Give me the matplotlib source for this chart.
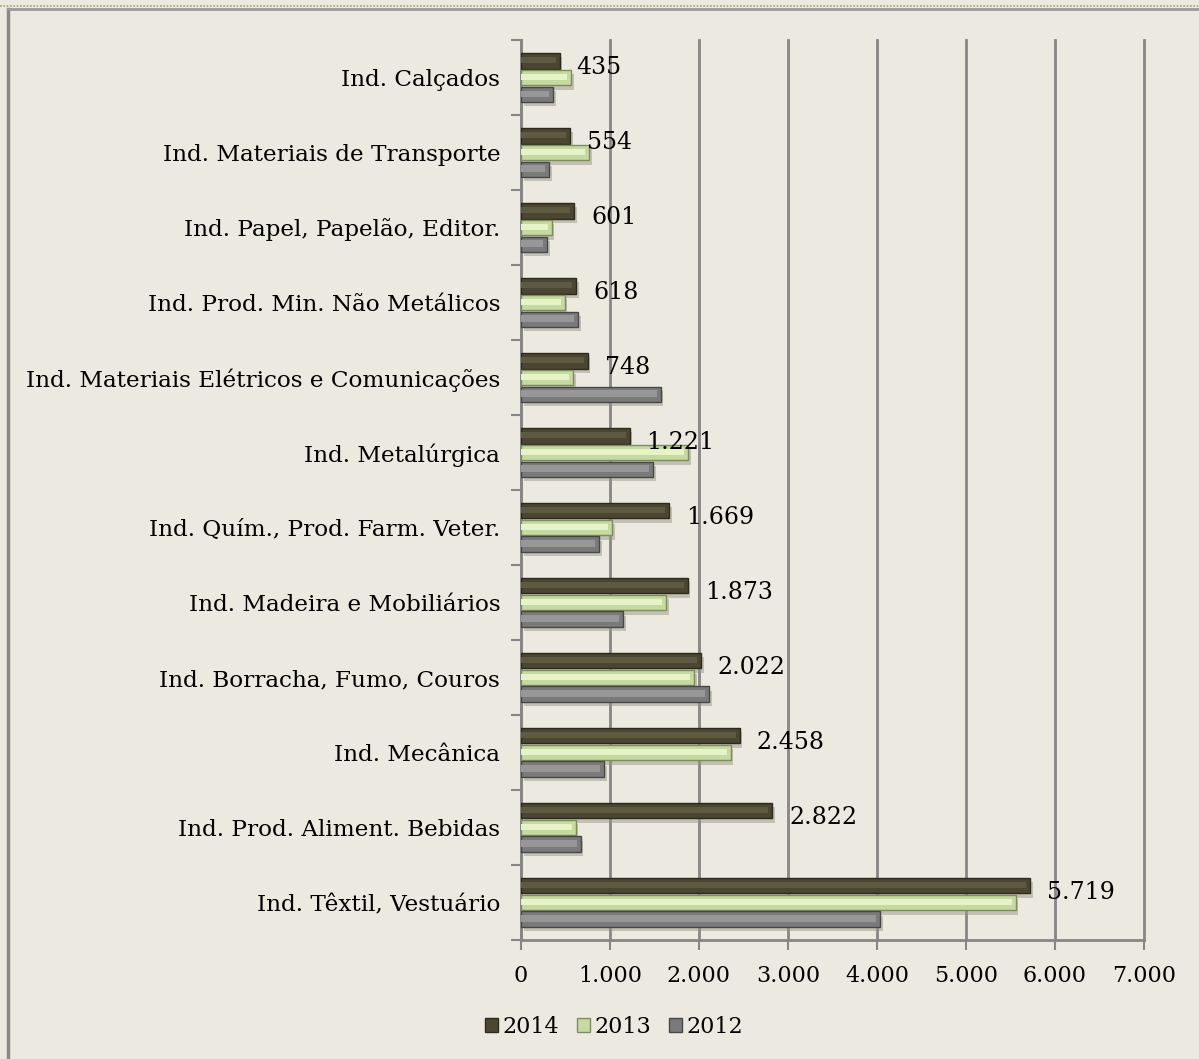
import matplotlib
matplotlib.use('Agg')
import matplotlib.pyplot as plt
import matplotlib.patheffects as pe
from matplotlib.lines import Line2D
import numpy as np

# categorias, de cima para baixo
categorias = ['Ind. Calçados', 'Ind. Materiais de Transporte', 'Ind. Papel, Papelão, Editor.',
              'Ind. Prod. Min. Não Metálicos', 'Ind. Materiais Elétricos e Comunicações',
              'Ind. Metalúrgica', 'Ind. Quím., Prod. Farm. Veter.', 'Ind. Madeira e Mobiliários',
              'Ind. Borracha, Fumo, Couros', 'Ind. Mecânica', 'Ind. Prod. Aliment. Bebidas',
              'Ind. Têxtil, Vestuário']
v2014 = [435, 554, 601, 618, 748, 1221, 1669, 1873, 2022, 2458, 2822, 5719]
v2013 = [560, 770, 345, 490, 585, 1875, 1020, 1635, 1945, 2355, 615, 5560]
v2012 = [360, 315, 292, 640, 1570, 1487, 876, 1150, 2112, 936, 671, 4034]
anos = ['2014', '2013', '2012']
xticks = [0, 1000, 2000, 3000, 4000, 5000, 6000, 7000]

fundo = '#ECEAE0'
cores = {'2014': ('#4A4631', '#5E5A42', '#2C2A1C'),
         '2013': ('#C6D9A0', '#E6F3C6', '#7D8C5E'),
         '2012': ('#7A7A7A', '#979797', '#474747')}

plt.rcParams['font.family'] = 'DejaVu Serif'

fig = plt.figure(figsize=(11.99, 10.59), dpi=100, facecolor=fundo)
ax = fig.add_axes([0.4345, 0.1124, 0.5195, 0.8498])
ax.set_facecolor(fundo)

y = np.arange(len(categorias))
h = 0.21
offsets = [-0.225, 0.0, 0.225]
sombra = [pe.SimplePatchShadow(offset=(2, -3), shadow_rgbFace='#9a9888', alpha=0.5), pe.Normal()]

for ano, vals, off in zip(anos, [v2014, v2013, v2012], offsets):
    base, luz, borda = cores[ano]
    vals = np.array(vals)
    bars = ax.barh(y + off, vals, height=h, color=base, edgecolor=borda, linewidth=1.0, zorder=3)
    for b in bars:
        b.set_path_effects(sombra)
    # faixa clara imitando o chanfro
    ax.barh(y + off - 0.01, np.maximum(vals - 45, 0), height=h * 0.4, left=0,
            color=luz, linewidth=0, zorder=4)
    if ano == '2014':
        for yi, v in zip(y + off, vals):
            ax.annotate(f'{v:,}'.replace(',', '.'), (v, yi), xytext=(17, -7),
                        textcoords='offset pixels', ha='left', va='center',
                        fontsize=17, color='black', zorder=5)

ax.set_xlim(0, 7000)
ax.set_ylim(len(categorias) - 0.5, -0.5)
ax.set_xticks(xticks)
ax.set_xticklabels(['0'] + [f'{t // 1000}.000' for t in xticks[1:]], fontsize=16)
ax.set_yticks(np.arange(-0.5, len(categorias)))
ax.set_yticklabels([])
ax.set_yticks(y, minor=True)
ax.set_yticklabels(categorias, minor=True, fontsize=16.7)
ax.tick_params(axis='y', which='minor', length=0, pad=15)
ax.tick_params(axis='y', which='major', length=7, width=1.5, color='#868686')
ax.tick_params(axis='x', length=7, width=1.5, color='#868686', pad=11)

ax.grid(axis='x', color='#868686', linewidth=2, zorder=0)
for gl in ax.get_xgridlines():
    gl.set_clip_on(False)
ax.set_axisbelow(True)
for s in ['top', 'right']:
    ax.spines[s].set_visible(False)
for s in ['left', 'bottom']:
    ax.spines[s].set_color('#868686')
    ax.spines[s].set_linewidth(2)

handles = [plt.Rectangle((0, 0), 1, 1, facecolor=cores[a][0], edgecolor=cores[a][2]) for a in anos]
fig.legend(handles, anos, loc='center', bbox_to_anchor=(614 / 1199, 1 - 1027 / 1059), ncol=3,
           frameon=False, fontsize=16, handlelength=0.6, handleheight=0.6,
           handletextpad=0.2, columnspacing=0.8)

# moldura (esquerda e topo)
fig.add_artist(Line2D([8 / 1199, 8 / 1199], [0, 1 - 9 / 1059], color='#888888', linewidth=2.5))
fig.add_artist(Line2D([8 / 1199, 1], [1 - 9 / 1059, 1 - 9 / 1059], color='#999999', linewidth=2))
fig.add_artist(Line2D([0, 1], [1 - 6 / 1059, 1 - 6 / 1059], color='#A8A070', linewidth=1.2,
                      linestyle=(0, (1, 1))))

fig.savefig('out.png', dpi=100, facecolor=fundo)
